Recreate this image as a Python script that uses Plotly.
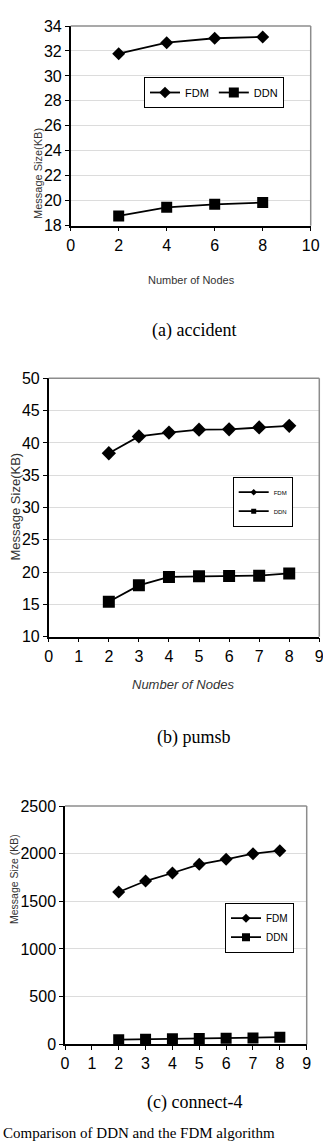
import plotly.graph_objects as go

W, H = 323, 1143

# ---- data ----
nodes_a = [2, 4, 6, 8]
fdm_a = [31.78, 32.66, 33.02, 33.12]
ddn_a = [18.78, 19.47, 19.71, 19.85]

nodes_b = [2, 3, 4, 5, 6, 7, 8]
fdm_b = [38.4, 41.0, 41.6, 42.05, 42.1, 42.4, 42.65]
ddn_b = [15.4, 17.95, 19.25, 19.35, 19.4, 19.45, 19.8]

nodes_c = [2, 3, 4, 5, 6, 7, 8]
fdm_c = [1598, 1713, 1797, 1888, 1941, 2000, 2031]
ddn_c = [48, 53, 58, 62, 63, 66, 75]

series_names = ["FDM", "DDN"]
captions = ["(a) accident", "(b) pumsb", "(c) connect-4"]
bottom_text = "Comparison of DDN and the FDM algorithm"

SANS = "Liberation Sans, Arial, sans-serif"
SERIF = "Liberation Serif, Times New Roman, serif"


def px_x(p):
    return p / W


def px_y(p):
    return 1 - p / H


fig = go.Figure()

panels = [
    dict(x=nodes_a, f=fdm_a, d=ddn_a, xa="x", ya="y", leg="legend",
         ms=(10, 11), lms=(9, 10)),
    dict(x=nodes_b, f=fdm_b, d=ddn_b, xa="x2", ya="y2", leg="legend2",
         ms=(11, 12), lms=(5, 5)),
    dict(x=nodes_c, f=fdm_c, d=ddn_c, xa="x3", ya="y3", leg="legend3",
         ms=(10, 11), lms=(7, 8)),
]

for p in panels:
    for name, vals, sym, ms, lms in [
        (series_names[0], p["f"], "diamond", p["ms"][0], p["lms"][0]),
        (series_names[1], p["d"], "square", p["ms"][1], p["lms"][1]),
    ]:
        fig.add_trace(go.Scatter(
            x=p["x"], y=vals, mode="lines+markers", name=name,
            xaxis=p["xa"], yaxis=p["ya"], showlegend=False,
            line=dict(color="black", width=1.8),
            marker=dict(symbol=sym, size=ms, color="black"),
        ))
        # legend-only entry
        fig.add_trace(go.Scatter(
            x=[None], y=[None], mode="lines+markers", name=name,
            xaxis=p["xa"], yaxis=p["ya"], showlegend=True, legend=p["leg"],
            line=dict(color="black", width=1.8),
            marker=dict(symbol=sym, size=lms, color="black"),
        ))


def axis_common():
    return dict(
        showline=True, linecolor="black", linewidth=1.5,
        ticks="outside", ticklen=4, tickcolor="black", tickwidth=1,
        tickfont=dict(family=SANS, size=16, color="black"),
        zeroline=False, mirror=False, automargin=False,
        ticklabeloverflow="allow",
    )


layout = dict(
    template="none",
    width=W, height=H, margin=dict(l=0, r=0, t=0, b=0, pad=0, autoexpand=False),
    paper_bgcolor="white", plot_bgcolor="white", showlegend=True,
)

# panel a
layout["xaxis"] = dict(axis_common(), domain=[px_x(70.7), px_x(310.7)], anchor="y",
                       range=[0, 10], dtick=2, tick0=0, showgrid=False)
layout["yaxis"] = dict(axis_common(), domain=[px_y(225.7), px_y(26)], anchor="x",
                       range=[18, 34], dtick=2, tick0=18, showgrid=True,
                       gridcolor="#dcdcdc", gridwidth=1)
# panel b
layout["xaxis2"] = dict(axis_common(), domain=[px_x(48.7), px_x(319.3)], anchor="y2",
                        range=[0, 9], dtick=1, tick0=0, showgrid=False)
layout["yaxis2"] = dict(axis_common(), domain=[px_y(636.7), px_y(378.3)], anchor="x2",
                        range=[10, 50], dtick=5, tick0=10, showgrid=True,
                        gridcolor="#dcdcdc", gridwidth=1)
# panel c
layout["xaxis3"] = dict(axis_common(), domain=[px_x(65), px_x(306.7)], anchor="y3",
                        range=[0, 9], dtick=1, tick0=0, showgrid=False)
layout["yaxis3"] = dict(axis_common(), domain=[px_y(1044.3), px_y(806)], anchor="x3",
                        range=[0, 2500], dtick=500, tick0=0, showgrid=True,
                        gridcolor="#dcdcdc", gridwidth=1)

# legends
layout["legend"] = dict(
    x=px_x(144), y=px_y(77), xanchor="left", yanchor="top",
    orientation="h", bgcolor="white", bordercolor="black", borderwidth=1,
    font=dict(family=SANS, size=11, color="black"),
    itemwidth=30, tracegroupgap=0,
)
layout["legend2"] = dict(
    x=px_x(232.7), y=px_y(476.7), xanchor="left", yanchor="top",
    orientation="v", bgcolor="white", bordercolor="black", borderwidth=1,
    font=dict(family=SANS, size=6, color="black"), tracegroupgap=0,
)
layout["legend3"] = dict(
    x=px_x(225), y=px_y(902.7), xanchor="left", yanchor="top",
    orientation="v", bgcolor="white", bordercolor="black", borderwidth=1,
    font=dict(family=SANS, size=10, color="black"), tracegroupgap=0,
)

# gray frame on top/right of each plot area
shapes = []
for xa, ya in [("x", "y"), ("x2", "y2"), ("x3", "y3")]:
    shapes.append(dict(type="line", xref=f"{xa} domain", yref=f"{ya} domain",
                       x0=0, x1=1, y0=1, y1=1, line=dict(color="#8c8c8c", width=1.5)))
    shapes.append(dict(type="line", xref=f"{xa} domain", yref=f"{ya} domain",
                       x0=1, x1=1, y0=0, y1=1, line=dict(color="#8c8c8c", width=1.5)))
layout["shapes"] = shapes

ann = []
# axis titles
ann.append(dict(text="Number of Nodes", x=px_x(191), y=px_y(272), xref="paper", yref="paper",
                showarrow=False, font=dict(family=SANS, size=11, color="#333333")))
ann.append(dict(text="<i>Number of Nodes</i>", x=px_x(183), y=px_y(684), xref="paper", yref="paper",
                showarrow=False, font=dict(family=SANS, size=13, color="#333333")))
ann.append(dict(text="Message Size(KB)", x=px_x(29.5), y=px_y(126), xref="paper", yref="paper",
                showarrow=False, textangle=-90, font=dict(family=SANS, size=11, color="#333333")))
ann.append(dict(text="Message Size(KB)", x=px_x(6), y=px_y(507), xref="paper", yref="paper",
                showarrow=False, textangle=-90, font=dict(family=SANS, size=13, color="#333333")))
ann.append(dict(text="Message Size (KB)", x=px_x(6), y=px_y(926), xref="paper", yref="paper",
                showarrow=False, textangle=-90, font=dict(family=SANS, size=10.5, color="#333333")))
# captions
for cap, cy in zip(captions, [318, 737, 1115]):
    ann.append(dict(text=cap, x=px_x(194), y=px_y(cy), xref="paper", yref="paper",
                    showarrow=False, font=dict(family=SERIF, size=18, color="black")))
ann.append(dict(text=bottom_text, x=px_x(1), y=0, xref="paper", yref="paper",
                xanchor="left", yanchor="bottom", showarrow=False,
                font=dict(family=SERIF, size=15, color="black")))
layout["annotations"] = ann

fig.update_layout(**layout)
fig.write_html("out.html")
